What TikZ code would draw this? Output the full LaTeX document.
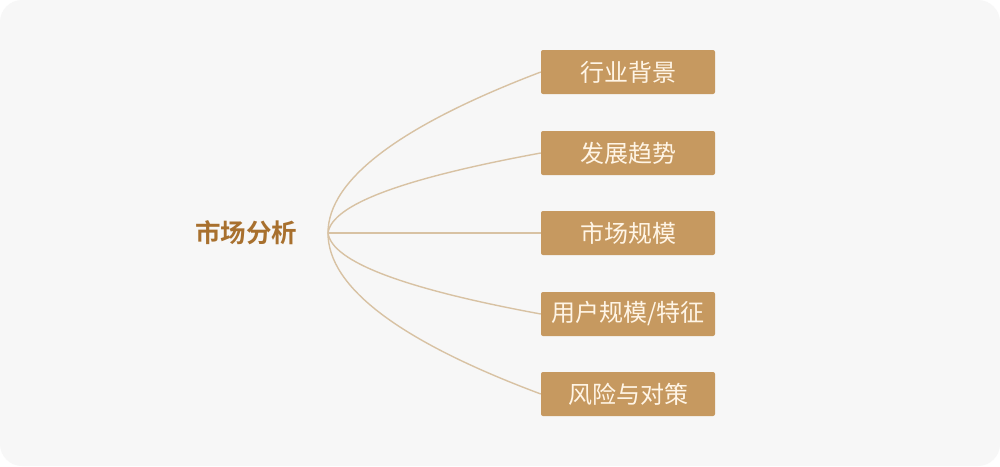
\documentclass[tikz,border=0pt]{standalone}
\usepackage{fontspec}
\newfontfamily\cjk{Noto Sans CJK SC}
\newfontfamily\cjkb{Noto Sans CJK SC Bold}
\definecolor{bg}{HTML}{F7F7F7}
\definecolor{boxc}{HTML}{C69960}
\definecolor{boxt}{HTML}{FFF5E6}
\definecolor{rootc}{HTML}{A8702E}
\definecolor{linec}{HTML}{D8C2A3}
\tikzset{
  branch/.style={fill=boxc, rounded corners=2pt, minimum width=174pt, minimum height=44pt, inner sep=0pt, text=boxt, font=\cjk\fontsize{24}{28}\selectfont},
  link/.style={draw=linec, line width=1.4pt},
}
\begin{document}
\begin{tikzpicture}[x=1pt,y=-1pt]
\useasboundingbox (0,0) rectangle (1000,466);
\fill[white] (0,0) rectangle (1000,466);
\fill[bg, rounded corners=22pt] (0,0) rectangle (1000,466);
\node[text=rootc, font=\cjkb\fontsize{25.5}{30}\selectfont, anchor=center] (root) at (246,233) {市场分析};
\coordinate (hub) at (328,233);
\node[branch] (b1) at (628,72) {行业背景};
\node[branch] (b2) at (628,153) {发展趋势};
\node[branch] (b3) at (628,233) {市场规模};
\node[branch] (b4) at (628,314) {用户规模/特征};
\node[branch] (b5) at (628,394) {风险与对策};
\draw[link] (hub) .. controls (328,180) and (399,126) .. (b1.west);
\draw[link] (hub) .. controls (332,204) and (405,178) .. (b2.west);
\draw[link] (hub) -- (b3.west);
\draw[link] (hub) .. controls (332,262) and (405,289) .. (b4.west);
\draw[link] (hub) .. controls (328,287) and (399,341) .. (b5.west);
\end{tikzpicture}
\end{document}
